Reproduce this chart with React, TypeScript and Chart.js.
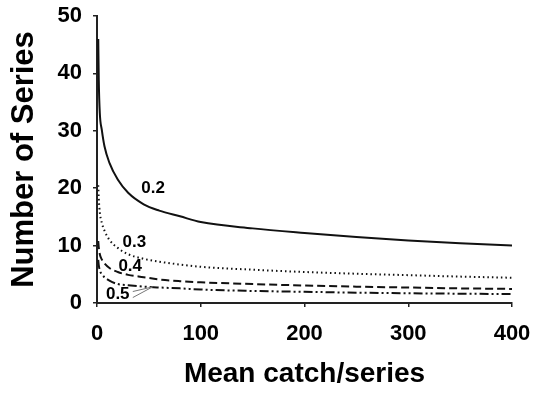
import React, { useEffect, useRef } from "react";
import { Chart, registerables } from "chart.js";

Chart.register(...registerables);

// Mean catch per series (x values shared by all curves)
const meanCatch = [1.2, 1.7, 2.7, 4.6, 7.2, 12, 20, 30, 45, 60, 80, 100, 150, 200, 250, 300, 350, 400];

// Number of series for each CV level
const cv02 = [46, 38.9, 33.1, 30.2, 27.3, 24.4, 21.5, 19.2, 17.2, 16.1, 15.1, 14.1, 13.0, 12.2, 11.5, 10.9, 10.4, 10.0];
const cv03 = [20.5, 18.2, 15.8, 14.0, 12.6, 11.0, 9.6, 8.5, 7.7, 7.2, 6.7, 6.3, 5.8, 5.4, 5.1, 4.85, 4.6, 4.4];
const cv04 = [10.8, 9.7, 8.5, 7.6, 6.9, 6.1, 5.4, 4.9, 4.5, 4.1, 3.8, 3.6, 3.3, 3.05, 2.85, 2.7, 2.55, 2.45];
const cv05 = [7.5, 6.6, 5.7, 5.0, 4.5, 3.9, 3.3, 3.1, 2.85, 2.7, 2.55, 2.35, 2.1, 1.95, 1.8, 1.7, 1.62, 1.55];

const seriesNames = ["0.2", "0.3", "0.4", "0.5"];

// Curve labels placed in data coordinates
const labelText = ["0.2", "0.3", "0.4", "0.5"];
const labelX = [54, 36, 32, 20];
const labelY = [19.9, 10.5, 6.35, 1.5];

// Arrow from the 0.5 label to its curve (data coordinates)
const arrowTip = { x: 53.5, y: 2.8 };
const arrowTails = [
  { x: 34.5, y: 2.0 },
  { x: 34.5, y: 0.95 },
];

const xTicks = [0, 100, 200, 300, 400];
const yTicks = [0, 10, 20, 30, 40, 50];

const FONT = "'Liberation Sans', Arial, Helvetica, sans-serif";

export default function App() {
  const ref = useRef<HTMLCanvasElement | null>(null);

  useEffect(() => {
    if (!ref.current) return;
    const toPts = (ys: number[]) => ys.map((y, i) => ({ x: meanCatch[i], y }));
    const styles = [
      { dash: [] as number[], w: 2 },
      { dash: [1.5, 3], w: 2 },
      { dash: [8, 4], w: 2 },
      { dash: [9, 3, 2, 3, 2, 3], w: 2 },
    ];
    const all = [cv02, cv03, cv04, cv05];

    const labelPlugin = {
      id: "curveLabels",
      afterDatasetsDraw(chart: any) {
        const { ctx, scales } = chart;
        const xs = scales.x;
        const ys = scales.y;
        ctx.save();
        ctx.fillStyle = "#000";
        ctx.font = `bold 17px ${FONT}`;
        ctx.textAlign = "center";
        ctx.textBaseline = "middle";
        labelText.forEach((t, i) => {
          ctx.fillText(t, xs.getPixelForValue(labelX[i]), ys.getPixelForValue(labelY[i]));
        });
        ctx.strokeStyle = "#777";
        ctx.lineWidth = 1;
        arrowTails.forEach((p) => {
          ctx.beginPath();
          ctx.moveTo(xs.getPixelForValue(p.x), ys.getPixelForValue(p.y));
          ctx.lineTo(xs.getPixelForValue(arrowTip.x), ys.getPixelForValue(arrowTip.y));
          ctx.stroke();
        });
        ctx.restore();
      },
    };

    const chart = new Chart(ref.current, {
      type: "line",
      data: {
        datasets: all.map((ys, i) => ({
          label: seriesNames[i],
          data: toPts(ys),
          borderColor: "#111",
          borderWidth: styles[i].w,
          borderDash: styles[i].dash,
          pointRadius: 0,
          fill: false,
          cubicInterpolationMode: "monotone" as const,
        })),
      },
      options: {
        responsive: false,
        animation: false,
        layout: { padding: { top: 16, right: 29, left: 0, bottom: 0 } },
        plugins: { legend: { display: false }, tooltip: { enabled: false } },
        scales: {
          x: {
            type: "linear",
            min: 0,
            max: 400,
            afterFit: (s: any) => {
              s.height = 92;
              s.paddingLeft = 0;
              s.paddingRight = 0;
            },
            afterBuildTicks: (s: any) => {
              s.ticks = xTicks.map((v) => ({ value: v }));
            },
            grid: { display: true, drawOnChartArea: false, drawTicks: true, tickLength: 4, color: "#222", lineWidth: 1.5 },
            border: { display: true, color: "#222", width: 2 },
            ticks: { color: "#000", padding: 14, font: { family: FONT, size: 22, weight: "bold" } },
            title: {
              display: true,
              text: "Mean catch/series",
              color: "#000",
              padding: { top: 0, bottom: 7 },
              font: { family: FONT, size: 28, weight: "bold", lineHeight: 1 },
            },
          },
          y: {
            type: "linear",
            min: 0,
            max: 50,
            afterFit: (s: any) => {
              s.width = 97;
              s.paddingTop = 0;
              s.paddingBottom = 0;
            },
            afterBuildTicks: (s: any) => {
              s.ticks = yTicks.map((v) => ({ value: v }));
            },
            grid: { display: true, drawOnChartArea: false, drawTicks: true, tickLength: 4, color: "#222", lineWidth: 1.5 },
            border: { display: true, color: "#222", width: 2 },
            ticks: { color: "#000", padding: 11, font: { family: FONT, size: 22, weight: "bold" } },
            title: {
              display: true,
              text: "Number of Series",
              color: "#000",
              padding: { top: 9, bottom: 0 },
              font: { family: FONT, size: 31, weight: "bold", lineHeight: 1 },
            },
          },
        },
      },
      plugins: [labelPlugin],
    } as any);
    return () => chart.destroy();
  }, []);

  return (
    <div style={{ position: "fixed", left: 0, top: 0, width: 541, height: 395, background: "#fff" }}>
      <canvas ref={ref} width={541} height={395} style={{ display: "block" }} />
    </div>
  );
}
